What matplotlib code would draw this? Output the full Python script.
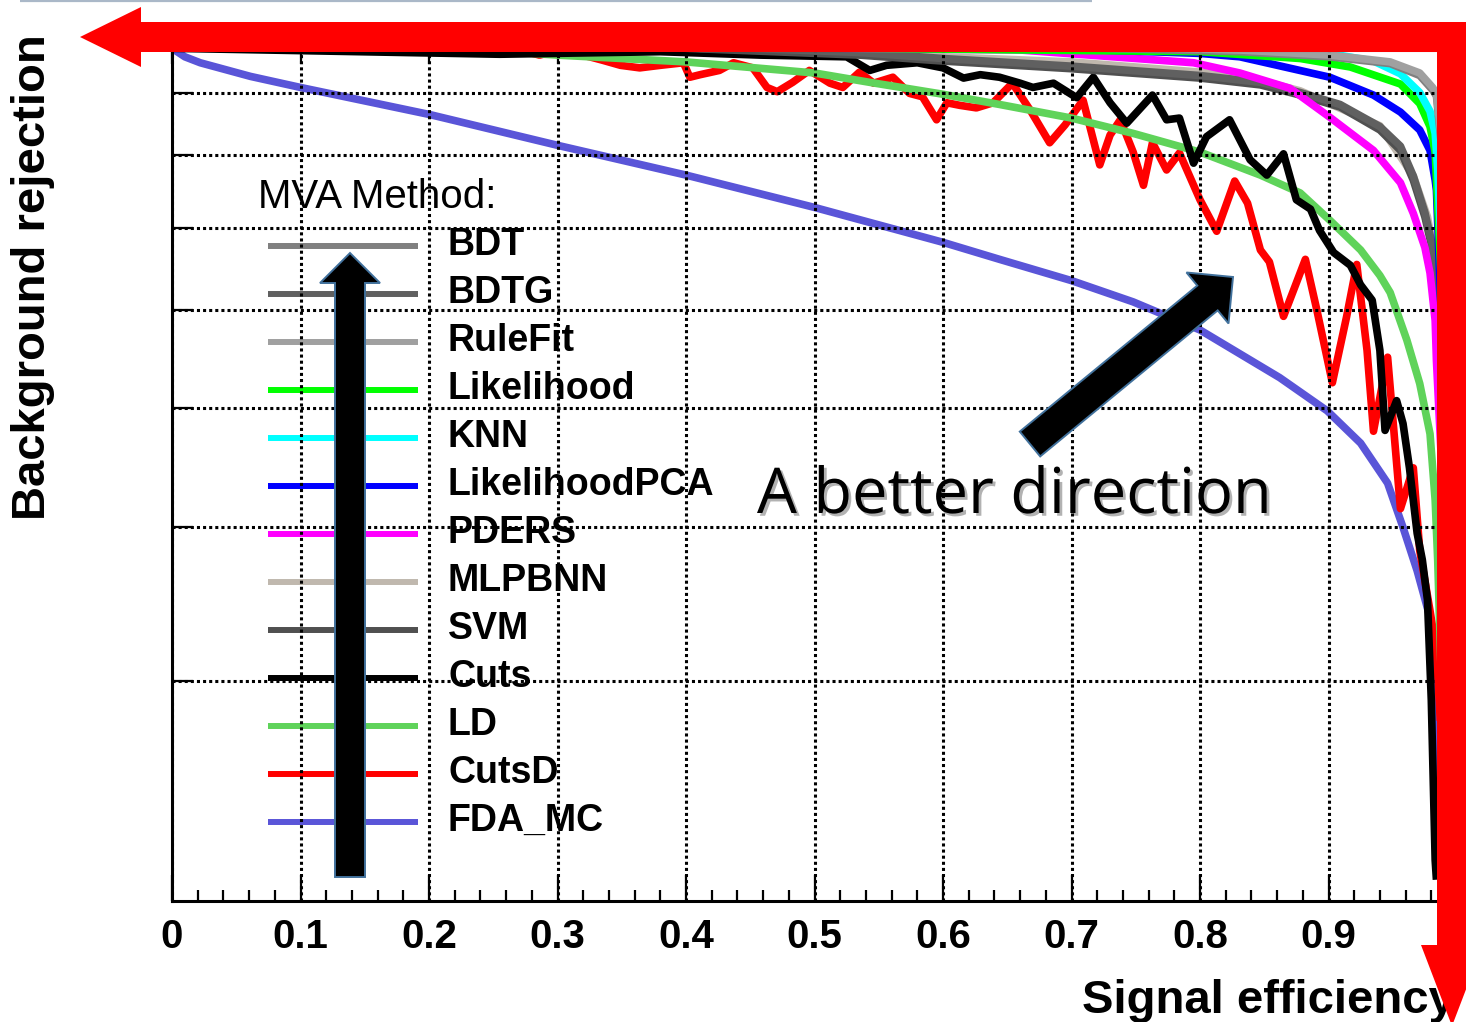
import matplotlib
matplotlib.use('Agg')
import matplotlib.pyplot as plt
from matplotlib.patches import Polygon
from matplotlib.ticker import MultipleLocator, FixedLocator
import matplotlib.patheffects as pe

plt.rcParams['font.family'] = ['Liberation Sans', 'DejaVu Sans']

# MVA methods in ranking order, with their ROOT colours
methods = ['BDT', 'BDTG', 'RuleFit', 'Likelihood', 'KNN', 'LikelihoodPCA', 'PDERS',
           'MLPBNN', 'SVM', 'Cuts', 'LD', 'CutsD', 'FDA_MC']
colors = ['#808080', '#606060', '#a0a0a0', '#00ff00', '#00ffff', '#0000ff', '#ff00ff',
          '#c0b8ae', '#505050', '#000000', '#5fd35a', '#ff0000', '#5a55d8']

# ROC curves: signal efficiency (x) vs background rejection (y)
bdt_x = [0.0, 0.722, 0.831, 0.901, 0.948, 0.971, 0.981, 0.984, 0.995]
bdt_y = [1.008, 1.002, 0.998, 0.992, 0.984, 0.970, 0.953, 0.946, 0.78]

rulefit_x = [0.0, 0.722, 0.831, 0.901, 0.948, 0.971, 0.981, 0.984, 0.995]
rulefit_y = [1.01, 1.004, 1.000, 0.994, 0.986, 0.973, 0.956, 0.949, 0.80]

knn_x = [0.0, 0.831, 0.904, 0.935, 0.956, 0.971, 0.979, 0.983, 0.985, 0.995]
knn_y = [1.01, 1.001, 0.995, 0.987, 0.972, 0.950, 0.928, 0.902, 0.860, 0.5]

likelihood_x = [0.0, 0.800, 0.878, 0.917, 0.956, 0.971, 0.979, 0.983, 0.995]
likelihood_y = [1.01, 0.998, 0.990, 0.980, 0.960, 0.937, 0.910, 0.880, 0.5]

likelihoodpca_x = [0.0, 0.722, 0.800, 0.831, 0.901, 0.935, 0.956, 0.971, 0.979, 0.983, 0.984, 0.995]
likelihoodpca_y = [1.01, 1.000, 0.996, 0.992, 0.968, 0.947, 0.927, 0.906, 0.882, 0.847, 0.835, 0.4]

pders_x = [0.0, 0.660, 0.795, 0.831, 0.870, 0.901, 0.935, 0.956, 0.966, 0.975, 0.979, 0.983, 0.984, 0.995]
pders_y = [1.01, 1.000, 0.985, 0.973, 0.955, 0.921, 0.882, 0.844, 0.808, 0.768, 0.738, 0.682, 0.635, 0.3]

svm_x = [0.0, 0.333, 0.535, 0.600, 0.700, 0.800, 0.847, 0.878, 0.909, 0.940, 0.956, 0.966, 0.975, 0.981, 0.984, 0.988, 0.995]
svm_y = [1.02, 1.006, 0.994, 0.987, 0.978, 0.967, 0.959, 0.947, 0.933, 0.906, 0.882, 0.847, 0.804, 0.765, 0.714, 0.659, 0.3]

bdtg_x = [0.0, 0.333, 0.535, 0.600, 0.700, 0.800, 0.847, 0.878, 0.909, 0.940, 0.956, 0.966, 0.975, 0.981, 0.984, 0.988, 0.995]
bdtg_y = [1.02, 1.009, 0.997, 0.990, 0.981, 0.970, 0.962, 0.950, 0.936, 0.910, 0.887, 0.852, 0.809, 0.770, 0.720, 0.665, 0.3]

mlpbnn_x = [0.0, 0.411, 0.535, 0.600, 0.700, 0.800, 0.847, 0.878, 0.940, 0.966, 0.977, 0.983, 0.987, 0.995]
mlpbnn_y = [1.02, 1.002, 0.998, 0.992, 0.986, 0.974, 0.964, 0.952, 0.911, 0.852, 0.804, 0.753, 0.694, 0.3]

cuts_x = [0.000, 0.255, 0.380, 0.458, 0.525, 0.543, 0.556, 0.580, 0.600, 0.616, 0.629, 0.644,
          0.660, 0.670, 0.686, 0.704, 0.717, 0.730, 0.743, 0.763, 0.774, 0.784, 0.795, 0.805,
          0.823, 0.839, 0.852, 0.865, 0.875, 0.886, 0.893, 0.904, 0.917, 0.925, 0.934, 0.940,
          0.944, 0.953, 0.958, 0.963, 0.969, 0.973, 0.977, 0.980, 0.983, 0.984]
cuts_y = [1.002, 0.995, 0.998, 0.994, 0.992, 0.976, 0.982, 0.985, 0.979, 0.967, 0.971, 0.968,
          0.961, 0.956, 0.961, 0.944, 0.968, 0.938, 0.914, 0.947, 0.918, 0.920, 0.867, 0.898,
          0.918, 0.871, 0.853, 0.878, 0.824, 0.813, 0.788, 0.762, 0.747, 0.724, 0.706, 0.647,
          0.553, 0.588, 0.561, 0.509, 0.432, 0.401, 0.354, 0.236, 0.048, 0.025]

ld_x = [0.0, 0.240, 0.300, 0.400, 0.500, 0.543, 0.600, 0.644, 0.700, 0.748, 0.800, 0.847,
        0.878, 0.901, 0.925, 0.940, 0.948, 0.961, 0.971, 0.979, 0.983, 0.985, 0.990]
ld_y = [1.006, 1.000, 0.994, 0.986, 0.973, 0.962, 0.948, 0.936, 0.920, 0.902, 0.880, 0.853,
        0.832, 0.800, 0.765, 0.735, 0.715, 0.659, 0.608, 0.549, 0.471, 0.400, 0.150]

cutsd_x = [0.000, 0.216, 0.271, 0.286, 0.302, 0.325, 0.335, 0.349, 0.364, 0.380, 0.398, 0.403,
           0.411, 0.426, 0.437, 0.452, 0.463, 0.471, 0.483, 0.496, 0.512, 0.522, 0.535, 0.546,
           0.561, 0.574, 0.584, 0.595, 0.603, 0.613, 0.626, 0.639, 0.654, 0.668, 0.683, 0.695,
           0.709, 0.722, 0.730, 0.738, 0.748, 0.756, 0.763, 0.774, 0.784, 0.800, 0.813, 0.827,
           0.837, 0.847, 0.854, 0.865, 0.882, 0.891, 0.903, 0.914, 0.922, 0.930, 0.935, 0.946,
           0.950, 0.956, 0.966, 0.971, 0.979, 0.984, 0.987]
cutsd_y = [1.012, 1.006, 1.000, 0.994, 1.000, 0.992, 0.988, 0.982, 0.979, 0.982, 0.985, 0.968,
           0.971, 0.976, 0.985, 0.979, 0.956, 0.951, 0.962, 0.976, 0.961, 0.956, 0.974, 0.961,
           0.968, 0.949, 0.945, 0.918, 0.938, 0.935, 0.932, 0.938, 0.961, 0.929, 0.891, 0.912,
           0.941, 0.865, 0.900, 0.918, 0.880, 0.841, 0.891, 0.859, 0.879, 0.824, 0.787, 0.846,
           0.820, 0.765, 0.751, 0.687, 0.754, 0.694, 0.609, 0.686, 0.748, 0.647, 0.552, 0.639,
           0.568, 0.461, 0.509, 0.412, 0.341, 0.294, 0.212]

fda_x = [0.0, 0.002, 0.010, 0.022, 0.061, 0.100, 0.201, 0.300, 0.400, 0.500, 0.600, 0.644,
         0.700, 0.748, 0.800, 0.862, 0.899, 0.925, 0.946, 0.958, 0.969, 0.979, 0.983, 0.985, 0.990]
fda_y = [1.02, 1.000, 0.992, 0.985, 0.969, 0.956, 0.924, 0.888, 0.853, 0.815, 0.774, 0.754,
         0.729, 0.704, 0.671, 0.615, 0.576, 0.538, 0.491, 0.439, 0.388, 0.333, 0.294, 0.224, 0.0]

curves = {
    'BDT': (bdt_x, bdt_y), 'BDTG': (bdtg_x, bdtg_y), 'RuleFit': (rulefit_x, rulefit_y),
    'Likelihood': (likelihood_x, likelihood_y), 'KNN': (knn_x, knn_y),
    'LikelihoodPCA': (likelihoodpca_x, likelihoodpca_y), 'PDERS': (pders_x, pders_y),
    'MLPBNN': (mlpbnn_x, mlpbnn_y), 'SVM': (svm_x, svm_y), 'Cuts': (cuts_x, cuts_y),
    'LD': (ld_x, ld_y), 'CutsD': (cutsd_x, cutsd_y), 'FDA_MC': (fda_x, fda_y),
}
draw_order = ['FDA_MC', 'CutsD', 'LD', 'Cuts', 'MLPBNN', 'SVM', 'BDTG', 'PDERS',
              'LikelihoodPCA', 'Likelihood', 'KNN', 'BDT', 'RuleFit']

xtick_vals = [0, 0.1, 0.2, 0.3, 0.4, 0.5, 0.6, 0.7, 0.8, 0.9, 1.0]
xtick_labels = ['0', '0.1', '0.2', '0.3', '0.4', '0.5', '0.6', '0.7', '0.8', '0.9', '']
ygrid_vals = [0.2585, 0.4395, 0.5793, 0.6945, 0.7908, 0.8766, 0.9495]

W, H = 1466, 1022
fig = plt.figure(figsize=(W / 100, H / 100), dpi=100)
fig.patch.set_facecolor('white')

# legend layer sits under the grid
ax_leg = fig.add_axes([0, 0, 1, 1], zorder=0)
ax_leg.set_xlim(0, W)
ax_leg.set_ylim(H, 0)
ax_leg.axis('off')

ax = fig.add_axes([172 / W, (H - 901) / H, 1285 / W, 851 / H], zorder=1)
ax.patch.set_alpha(0)
for name in draw_order:
    xs, ys = curves[name]
    ax.plot(xs, ys, color=colors[methods.index(name)], lw=5.5,
            solid_joinstyle='round', solid_capstyle='butt', zorder=2)

ax.set_xlim(0, 1)
ax.set_ylim(0, 1)
ax.set_xticks(xtick_vals)
ax.set_xticklabels(xtick_labels, fontsize=29, fontweight='bold')
ax.xaxis.set_minor_locator(MultipleLocator(0.02))
ax.yaxis.set_major_locator(FixedLocator(ygrid_vals))
ax.set_yticklabels([])
ax.tick_params(axis='x', which='major', direction='in', length=19, width=1.6, pad=12)
ax.tick_params(axis='x', which='minor', direction='in', length=8, width=1.6)
ax.tick_params(axis='y', which='major', direction='in', length=15, width=1.6)
ax.set_axisbelow(False)
ax.grid(True, which='major', color='black', lw=2.2, linestyle=(0, (1.0, 1.0)))
for side in ['left', 'bottom', 'top', 'right']:
    ax.spines[side].set_linewidth(2.2)

sec = ax.secondary_xaxis('top')
sec.set_xticks(xtick_vals)
sec.set_xticklabels([])
sec.tick_params(direction='in', length=10, width=1.6)
sec.spines['top'].set_visible(False)

ax.set_xlabel('Signal efficiency', fontsize=34, fontweight='bold', ha='right', va='baseline')
ax.xaxis.set_label_coords((1455 - 172) / 1285, (901 - 1013) / 851)
ax.set_ylabel('Background rejection', fontsize=34, fontweight='bold', ha='center', va='center')
ax.yaxis.set_label_coords((33 - 172) / 1285, (901 - 277) / 851)

# legend block
ax_leg.text(258, 208, 'MVA Method:', fontsize=29, va='baseline', ha='left')
for i, (name, col) in enumerate(zip(methods, colors)):
    yl = 246 + 48 * i
    ax_leg.plot([268, 418], [yl, yl], color=col, lw=4.3, solid_capstyle='butt')
    ax_leg.text(448, yl + 9, name, fontsize=27, fontweight='bold', va='baseline', ha='left')

# decoration layer on top
ax_top = fig.add_axes([0, 0, 1, 1], zorder=3)
ax_top.set_xlim(0, W)
ax_top.set_ylim(H, 0)
ax_top.axis('off')
ax_top.patch.set_alpha(0)

ax_top.plot([20, 1092], [1, 1], color='#aab8c8', lw=1.6, solid_capstyle='butt')

red_h = [(80, 37), (141, 7), (141, 22), (1467, 22), (1467, 52), (141, 52), (141, 67)]
red_v = [(1437, 22), (1467, 22), (1467, 945), (1483, 945), (1452, 1026), (1421, 945), (1437, 945)]
for pts in (red_h, red_v):
    ax_top.add_patch(Polygon(pts, closed=True, facecolor='#ff0000', edgecolor='none'))

up_arrow = [(335, 877), (365, 877), (365, 283), (380, 283), (350, 253), (320, 283), (335, 283)]
diag_arrow = [(1019.8, 431.6), (1197.3, 285.6), (1186.5, 272.5), (1233, 277),
              (1228.5, 323.5), (1217.7, 310.4), (1040.2, 456.4)]
for pts in (up_arrow, diag_arrow):
    ax_top.add_patch(Polygon(pts, closed=True, facecolor='black', edgecolor='#41719c',
                             lw=1.4, joinstyle='miter'))

ax_top.text(757, 513, 'A better direction', fontsize=45.5, family=['Open Sans', 'DejaVu Sans'],
            ha='left', va='baseline',
            path_effects=[pe.SimplePatchShadow(offset=(2, -2), alpha=0.3), pe.Normal()])

fig.savefig('out.png', dpi=100)
